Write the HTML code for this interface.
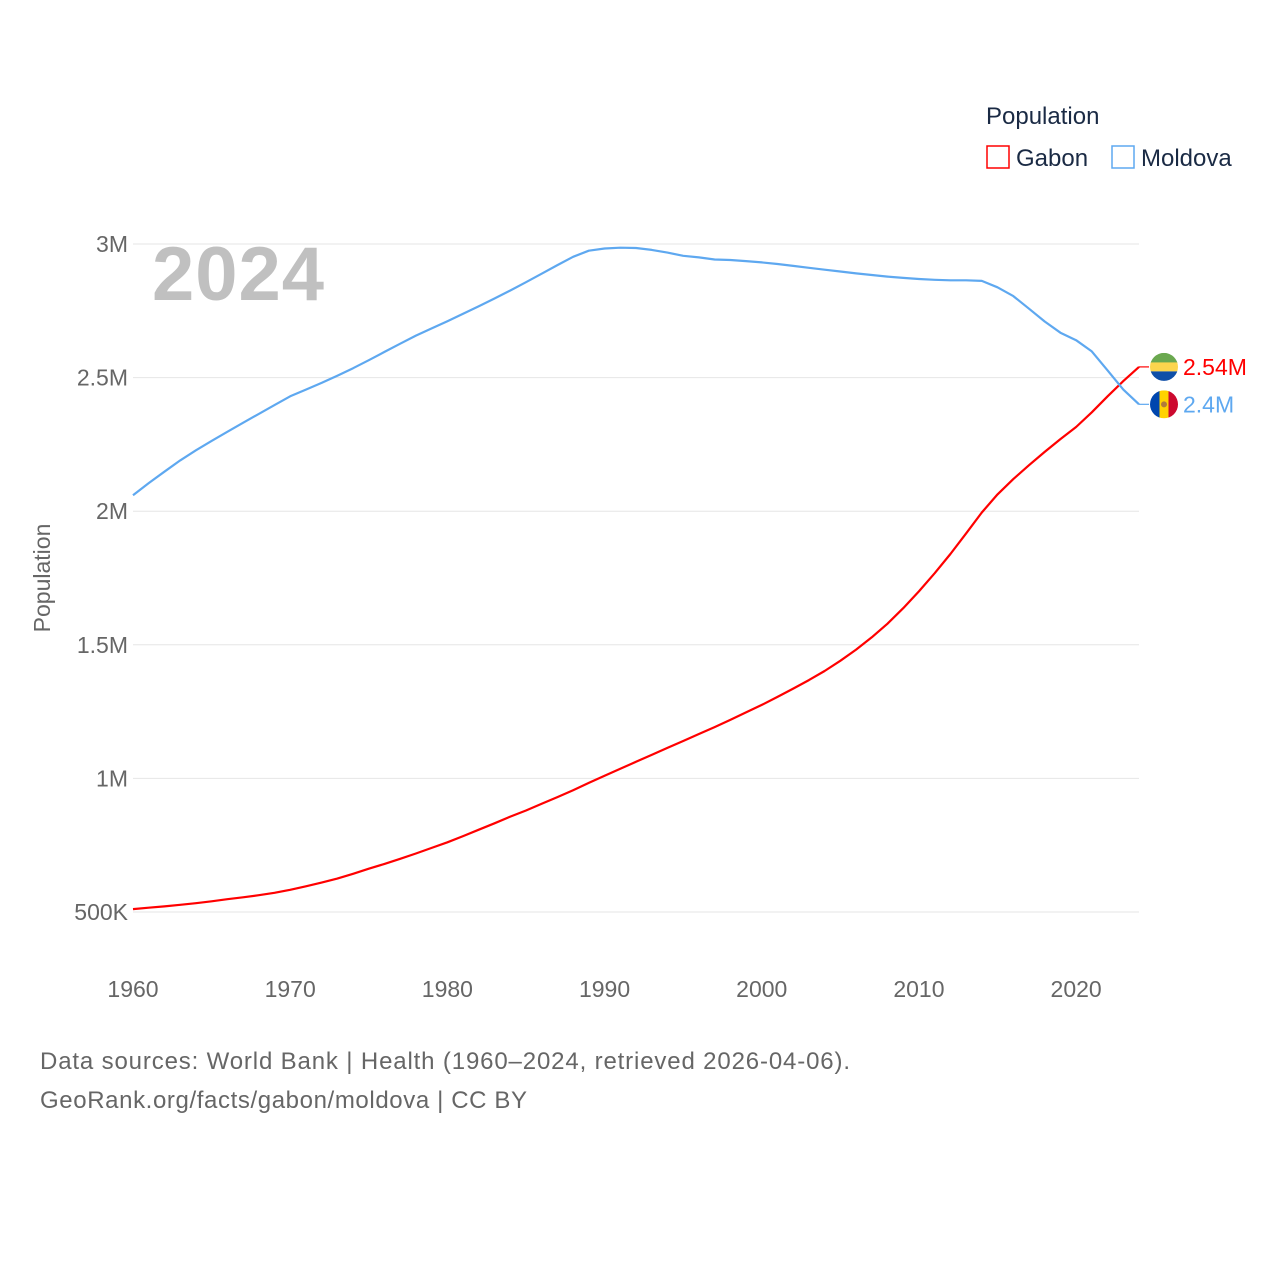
<!DOCTYPE html>
<html><head><meta charset="utf-8"><style>
body{margin:0;background:#fff;font-family:"Liberation Sans",sans-serif;}
svg text{font-family:"Liberation Sans",sans-serif;}
</style></head><body>
<svg id="chart" width="1280" height="1280" viewBox="0 0 1280 1280">
<g id="grid"></g>
<g id="yticks"></g>
<g id="xticks"></g>
<text x="50" y="578" transform="rotate(-90 50 578)" text-anchor="middle" font-size="23" fill="#666">Population</text>
<text x="152" y="300" font-size="76" font-weight="bold" fill="#c0c0c0" textLength="172">2024</text>
<g id="series"></g>
<g>
<text x="986" y="124" font-size="24" fill="#1a2a44">Population</text>
<g><rect x="987" y="146" width="22" height="22" fill="none" stroke="#ff0000" stroke-width="1.5"/><text x="1016" y="166" font-size="24" fill="#1a2a44">Gabon</text></g>
<g><rect x="1112" y="146" width="22" height="22" fill="none" stroke="#5ea8f0" stroke-width="1.5"/><text x="1141" y="166" font-size="24" fill="#1a2a44">Moldova</text></g>
</g>
<text x="40" y="1069" font-size="24" fill="#666" textLength="810">Data sources: World Bank | Health (1960–2024, retrieved 2026-04-06).</text>
<text x="40" y="1108" font-size="24" fill="#666" textLength="487">GeoRank.org/facts/gabon/moldova | CC BY</text>
</svg>
<script>
const years=[];for(let y=1960;y<=2024;y++)years.push(y);
const gabon=[0.511,0.516,0.521,0.527,0.533,0.540,0.548,0.555,0.563,0.572,0.583,0.596,0.610,0.625,0.643,0.662,0.680,0.699,0.719,0.740,0.761,0.784,0.808,0.832,0.857,0.880,0.905,0.930,0.956,0.983,1.010,1.036,1.062,1.088,1.114,1.140,1.166,1.192,1.219,1.247,1.275,1.305,1.336,1.368,1.402,1.440,1.482,1.528,1.579,1.637,1.700,1.768,1.840,1.917,1.995,2.063,2.120,2.172,2.222,2.270,2.315,2.370,2.430,2.487,2.540];
const moldova=[2.060,2.105,2.148,2.190,2.228,2.263,2.297,2.331,2.364,2.397,2.430,2.455,2.480,2.507,2.535,2.565,2.596,2.627,2.657,2.684,2.711,2.739,2.767,2.796,2.826,2.857,2.889,2.921,2.952,2.975,2.983,2.986,2.985,2.978,2.968,2.956,2.950,2.942,2.940,2.936,2.931,2.925,2.918,2.911,2.904,2.897,2.890,2.884,2.878,2.873,2.869,2.866,2.864,2.864,2.862,2.838,2.805,2.758,2.710,2.668,2.640,2.598,2.527,2.455,2.400];
const yTicks=[0.5,1,1.5,2,2.5,3];
const yTickLabels=["500K","1M","1.5M","2M","2.5M","3M"];
const xTicks=[1960,1970,1980,1990,2000,2010,2020];
const NS="http://www.w3.org/2000/svg";
const X=v=>133+(v-1960)*(1139-133)/64;
const Y=v=>912-(v-0.5)*(912-244)/2.5;
function el(tag,attrs,parent,txt){const e=document.createElementNS(NS,tag);for(const k in attrs)e.setAttribute(k,attrs[k]);if(txt!==undefined)e.textContent=txt;parent.appendChild(e);return e;}
const grid=document.getElementById('grid'),yt=document.getElementById('yticks'),xt=document.getElementById('xticks'),ser=document.getElementById('series');
yTicks.forEach((t,i)=>{
 const l=el('line',{x1:133,x2:1139,y1:Y(t),y2:Y(t),stroke:'#e6e6e6','stroke-width':1},grid);
 
 
 const tx=el('text',{x:128,y:Y(t)+8,'text-anchor':'end','font-size':23,fill:'#666'},yt,yTickLabels[i]);
 
 
});
xTicks.forEach(t=>{
 const tx=el('text',{x:X(t),y:997,'text-anchor':'middle','font-size':23,fill:'#666'},xt,String(t));
 
 
});
function line(vals,color,name){
 const n=Math.min(vals.length,years.length);
 let d='';for(let i=0;i<n;i++)d+=(i?'L':'M')+X(years[i]).toFixed(1)+','+Y(vals[i]).toFixed(1);
 const p=el('path',{d:d,fill:'none',stroke:color,'stroke-width':2.2,'stroke-linejoin':'round'},ser);
 
 
}
line(gabon,'#ff0000','gabon-line');
line(moldova,'#5ea8f0','moldova-line');
const gy=Y(gabon[years.length-1]),my=Y(moldova[years.length-1]);
const gl=el('g',{},ser);


el('line',{x1:1139,y1:gy,x2:1149,y2:gy,stroke:'#ff0000','stroke-width':1.2},gl);
const cpg=el('clipPath',{id:'cg'},gl);el('circle',{cx:1164,cy:gy,r:14},cpg);
const gf=el('g',{'clip-path':'url(#cg)'},gl);
el('rect',{x:1150,y:gy-14,width:28,height:10,fill:'#6aa84f'},gf);
el('rect',{x:1150,y:gy-4.5,width:28,height:9,fill:'#fcd54d'},gf);
el('rect',{x:1150,y:gy+4.5,width:28,height:10,fill:'#0f4fa8'},gf);
el('text',{x:1183,y:gy+8,'font-size':23,fill:'#ff0000'},gl,'2.54M');
const ml=el('g',{},ser);


el('line',{x1:1139,y1:my,x2:1149,y2:my,stroke:'#5ea8f0','stroke-width':1.2},ml);
const cp=el('clipPath',{id:'cm'},ml);el('circle',{cx:1164,cy:my,r:14},cp);
const mf=el('g',{'clip-path':'url(#cm)'},ml);
el('rect',{x:1150,y:my-14,width:10,height:28,fill:'#0046ae'},mf);
el('rect',{x:1159.5,y:my-14,width:9,height:28,fill:'#ffd200'},mf);
el('rect',{x:1168.5,y:my-14,width:10,height:28,fill:'#cc092f'},mf);
el('circle',{cx:1164,cy:my,r:3,fill:'#b07a3a'},mf);
el('text',{x:1183,y:my+8,'font-size':23,fill:'#5ea8f0'},ml,'2.4M');
</script>
</body></html>
